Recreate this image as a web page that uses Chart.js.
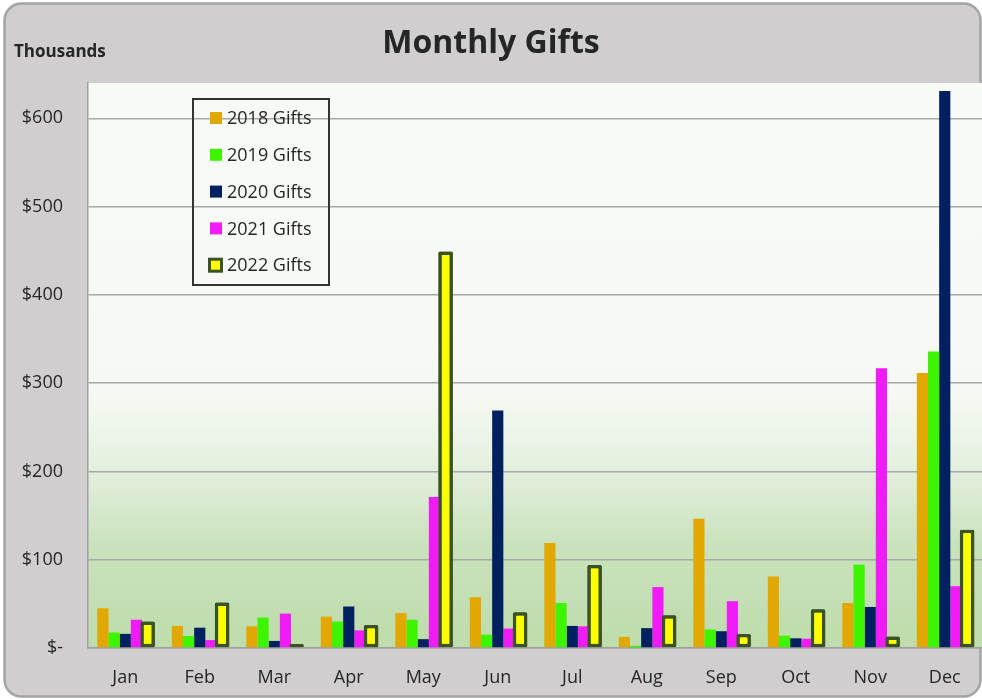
<!DOCTYPE html>
<html>
<head>
<meta charset="utf-8">
<title>Monthly Gifts</title>
<script src="https://cdn.jsdelivr.net/npm/chart.js@4.4.1/dist/chart.umd.min.js"></script>
<style>
    html, body { margin: 0; padding: 0; background: #ffffff; }
    #wrap { width: 982px; height: 699px; position: relative; }
</style>
</head>
<body>
<div id="wrap"><canvas id="gifts-chart"></canvas></div>
<script>
const months = ['Jan', 'Feb', 'Mar', 'Apr', 'May', 'Jun', 'Jul', 'Aug', 'Sep', 'Oct', 'Nov', 'Dec'];
const seriesLabels = ['2018 Gifts', '2019 Gifts', '2020 Gifts', '2021 Gifts', '2022 Gifts'];

// values in thousands of dollars
const gifts2018 = [45, 25, 24.5, 35.5, 39.5, 57.5, 119, 12.5, 146.5, 81, 51, 311.5];
const gifts2019 = [17.5, 13.5, 34.5, 30, 32, 15, 51, 2.5, 21, 14, 94.5, 336];
const gifts2020 = [16, 23, 8, 47, 10, 269, 25, 22.5, 19, 11, 46.5, 631];
const gifts2021 = [32, 9, 39, 20, 171, 22, 24.5, 69, 53, 10.5, 317, 70];
const gifts2022 = [30, 51.5, 4.5, 26, 449, 40.5, 94, 37, 16, 44, 13, 134];

const yTickValues = [0, 100, 200, 300, 400, 500, 600];
const yTickLabels = ['$-', '$100', '$200', '$300', '$400', '$500', '$600'];

const FONT = "'Open Sans', 'DejaVu Sans', sans-serif";
const TEXT_COLOR = '#262626';

const backgroundPlugin = {
    id: 'frameBackground',
    beforeDraw(chart) {
        const ctx = chart.ctx;
        const area = chart.chartArea;
        ctx.save();
        ctx.fillStyle = '#ffffff';
        ctx.fillRect(0, 0, chart.width, chart.height);

        // rounded grey frame
        ctx.beginPath();
        ctx.roundRect(4.5, 3.5, 976, 693, 17);
        ctx.fillStyle = '#d0cecf';
        ctx.fill();
        ctx.lineWidth = 2.5;
        ctx.strokeStyle = '#a4a4a4';
        ctx.stroke();

        // plot area gradient
        const grad = ctx.createLinearGradient(0, area.top, 0, area.bottom);
        grad.addColorStop(0, '#f8faf6');
        grad.addColorStop(0.55, '#f6f9f3');
        grad.addColorStop(0.68, '#e4f0de');
        grad.addColorStop(0.82, '#c9e2bc');
        grad.addColorStop(1, '#bedcab');
        ctx.fillStyle = grad;
        ctx.fillRect(area.left, area.top, chart.width - area.left, area.bottom - area.top);

        ctx.fillStyle = TEXT_COLOR;
        ctx.font = 'bold 17px ' + FONT;
        ctx.textBaseline = 'middle';
        ctx.textAlign = 'left';
        ctx.fillText('Thousands', 14, 52);
        ctx.restore();
    },
    afterDatasetsDraw(chart) {
        // keep the outlined 2022 bars on top of their neighbours
        chart.getDatasetMeta(4).controller.draw();
    },
    afterDraw(chart) {
        const ctx = chart.ctx;
        ctx.save();
        ctx.lineWidth = 2;
        ctx.strokeStyle = '#333333';
        ctx.strokeRect(193, 99, 136, 186);

        ctx.font = '18px ' + FONT;
        ctx.textBaseline = 'middle';
        ctx.textAlign = 'left';
        chart.data.datasets.forEach((ds, i) => {
            const y = 118 + i * 36.8;
            if (ds.borderWidth) {
                ctx.fillStyle = ds.borderColor;
                ctx.fillRect(208, y - 7.5, 15, 15);
                ctx.fillStyle = ds.backgroundColor;
                ctx.fillRect(211, y - 4.5, 9, 9);
            } else {
                ctx.fillStyle = ds.backgroundColor;
                ctx.fillRect(210, y - 6, 12, 12);
            }
            ctx.fillStyle = TEXT_COLOR;
            ctx.fillText(ds.label, 227, y + 1);
        });
        ctx.restore();
    }
};

function makeSeries(label, data, color) {
    return {
        label: label,
        data: data,
        backgroundColor: color,
        borderWidth: 0,
        categoryPercentage: 0.75,
        barPercentage: 1.0
    };
}

const datasets = [
    makeSeries(seriesLabels[0], gifts2018, '#e0a800'),
    makeSeries(seriesLabels[1], gifts2019, '#3ef500'),
    makeSeries(seriesLabels[2], gifts2020, '#002060'),
    makeSeries(seriesLabels[3], gifts2021, '#f01cf7'),
    {
        label: seriesLabels[4],
        data: gifts2022,
        backgroundColor: '#ffff00',
        borderColor: '#3b5323',
        borderWidth: 3.5,
        borderSkipped: false,
        borderRadius: 1.5,
        categoryPercentage: 0.75,
        barPercentage: 1.3
    }
];

new Chart(document.getElementById('gifts-chart'), {
    type: 'bar',
    data: { labels: months, datasets: datasets },
    plugins: [backgroundPlugin],
    options: {
        responsive: true,
        maintainAspectRatio: false,
        animation: false,
        layout: { padding: 0 },
        plugins: {
            legend: { display: false },
            tooltip: { enabled: false },
            title: {
                display: true,
                text: 'Monthly Gifts',
                color: TEXT_COLOR,
                font: { family: FONT, size: 32, weight: 'bold', lineHeight: 1.2 },
                padding: { top: 25, bottom: 19.6 }
            }
        },
        scales: {
            x: {
                grid: { display: false },
                border: { color: '#a0a0a0', width: 1.5 },
                ticks: {
                    color: TEXT_COLOR,
                    font: { family: FONT, size: 18 },
                    padding: 11,
                    maxRotation: 0
                },
                afterFit(scale) { scale.height = 51; }
            },
            y: {
                min: 0,
                max: 640,
                grid: { color: '#a8a8a8', lineWidth: 1.5, drawTicks: false },
                border: { color: '#a0a0a0', width: 1.5 },
                ticks: {
                    color: TEXT_COLOR,
                    font: { family: FONT, size: 18 },
                    padding: 25,
                    callback: function(value) {
                        const idx = yTickValues.indexOf(value);
                        return idx >= 0 ? yTickLabels[idx] : '';
                    }
                },
                afterBuildTicks(scale) {
                    scale.ticks = yTickValues.map(v => ({ value: v }));
                },
                afterFit(scale) { scale.width = 88; }
            }
        }
    }
});
</script>
</body>
</html>
